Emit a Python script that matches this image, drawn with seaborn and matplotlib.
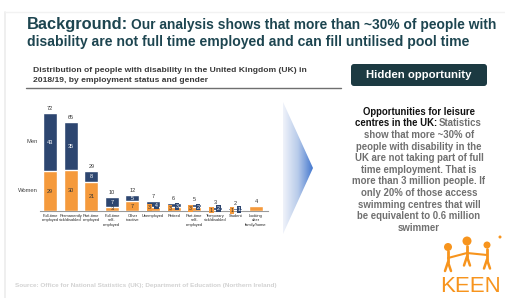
import numpy as np
import pandas as pd
import seaborn as sns
import matplotlib.pyplot as plt
from matplotlib.patches import Polygon, FancyBboxPatch
from matplotlib.colors import LinearSegmentedColormap

sns.set_theme(style='white')
plt.rcParams['font.family'] = ['Liberation Sans', 'DejaVu Sans']

categories = ['Full-time\nemployed', 'Permanently\nsick/disabled', 'Part-time\nemployed',
              'Full-time\nself-\nemployed', 'Other\ninactive', 'Unemployed', 'Retired',
              'Part-time\nself-\nemployed', 'Temporary\nsick/disabled', 'Student',
              'Looking\nafter\nfamily/home']
women = [29, 30, 21, 3, 7, 3, 3, 3, 1, 1, 4]
men = [43, 35, 8, 7, 5, 4, 3, 2, 2, 1, 0]
totals = [72, 65, 29, 10, 12, 7, 6, 5, 3, 2, 4]

navy = '#2d4670'
orange = '#f59a3c'
teal = '#1d4550'

df = pd.DataFrame({'category': categories, 'women': women, 'men': men, 'total': totals})

fig = plt.figure(figsize=(5.06, 2.98), dpi=100)

# slide background axes in pixel coordinates
bg = fig.add_axes([0, 0, 1, 1])
bg.set_xlim(0, 506)
bg.set_ylim(298, 0)
bg.axis('off')

bg.plot([5, 5], [12, 298], color='#ececec', lw=1.2)
bg.plot([5, 506], [12, 12], color='#f2f2f2', lw=1.0)

bg.text(27, 24, 'Background:', fontsize=11.8, fontweight='bold', color=teal, va='center')
bg.text(131, 25, 'Our analysis shows that more than ~30% of people with', fontsize=9.9,
        fontweight='bold', color=teal, va='center')
bg.text(27, 42, 'disability are not full time employed and can fill untilised pool time',
        fontsize=10.1, fontweight='bold', color=teal, va='center')

bg.text(33, 70.5, 'Distribution of people with disability in the United Kingdom (UK) in',
        fontsize=6.1, fontweight='bold', color='#3a3a3a', va='center')
bg.text(33, 80.5, '2018/19, by employment status and gender',
        fontsize=6.1, fontweight='bold', color='#3a3a3a', va='center')
bg.plot([26, 341], [87.5, 87.5], color='#6f6f6f', lw=1.0)

# gradient arrow
cmap = LinearSegmentedColormap.from_list('arr', ['#f0f3fa', '#b8cbea', '#4478cf'])
grad = np.linspace(0, 1, 200).reshape(1, -1)
tri = Polygon([[283, 102], [313, 168], [283, 234]], closed=True, transform=bg.transData,
              facecolor='none', edgecolor='none')
bg.add_patch(tri)
im = bg.imshow(grad, cmap=cmap, extent=[283, 313, 234, 102], aspect='auto')
im.set_clip_path(tri)
bg.set_xlim(0, 506)
bg.set_ylim(298, 0)

# hidden opportunity box
box = FancyBboxPatch((351, 64), 136, 22, boxstyle='round,pad=0,rounding_size=3',
                     facecolor='#1c3a42', edgecolor='none')
bg.add_patch(box)
bg.text(419, 75, 'Hidden opportunity', fontsize=8.2, fontweight='bold', color='white',
        ha='center', va='center')

grey = '#707070'
fs = 6.9
bg.text(419, 112, 'Opportunities for leisure', fontsize=fs, fontweight='bold',
        color='#111111', ha='center', va='center')
bg.text(437, 123.5, 'centres in the UK:', fontsize=fs, fontweight='bold',
        color='#111111', ha='right', va='center')
bg.text(439, 123.5, 'Statistics', fontsize=fs, fontweight='bold',
        color=grey, ha='left', va='center')
body = ['show that more ~30% of', 'people with disability in the',
        'UK are not taking part of full', 'time employment. That is',
        'more than 3 million people. If', 'only 20% of those access',
        'swimming centres that will', 'be equivalent to 0.6 million', 'swimmer']
for i, line in enumerate(body):
    bg.text(419, 135 + i * 11.6, line, fontsize=fs, fontweight='bold', color=grey,
            ha='center', va='center')

bg.text(15, 285, 'Source: Office for National Statistics (UK); Department of Education (Northern Ireland)',
        fontsize=4.6, fontweight='bold', color='#d2d2d2', va='center')

# KEEN logo
logo = '#f7941d'
bg.text(440, 286, 'KEEN', fontsize=16, color=logo, ha='left', va='center')
for cx, cy, r in [(448, 247, 4), (467, 241, 4.5), (487, 245, 3.5)]:
    bg.add_patch(plt.Circle((cx, cy), r, facecolor=logo, edgecolor='none'))
    bg.plot([cx, cx], [cy + r, cy + r + 11], color=logo, lw=2)
    bg.plot([cx - 3, cx, cx + 3], [cy + r + 20, cy + r + 11, cy + r + 20], color=logo, lw=1.8)
bg.plot([448, 467, 487], [258, 253, 255], color=logo, lw=1.5)
bg.add_patch(plt.Circle((500, 237), 1.5, facecolor=logo, edgecolor='none'))

# bar chart
ax = fig.add_axes([40 / 506, 87 / 298, 228 / 506, 109 / 298])
sns.barplot(data=df, x='category', y='total', color=navy, width=0.68, saturation=1,
            ax=ax, zorder=2)
sns.barplot(data=df, x='category', y='women', color=orange, width=0.68, saturation=1,
            ax=ax, zorder=3)
ax.set_xlim(-0.49, 10.58)
ax.set_ylim(0, 80)
ax.set_xlabel('')
ax.set_ylabel('')
ax.set_yticks([])
ax.tick_params(axis='x', length=0, pad=2, labelsize=2.9, labelcolor='#222222')
for s in ['top', 'right', 'left']:
    ax.spines[s].set_visible(False)
ax.spines['bottom'].set_color('#9a9a9a')
ax.spines['bottom'].set_linewidth(0.8)
ax.set_facecolor('none')

for i in range(len(categories)):
    w, m, t = women[i], men[i], totals[i]
    ax.text(i, t + 1.5, str(t), ha='center', va='bottom', fontsize=4.0, color='#333333')
    if w >= 5 or m >= 5:
        ax.text(i, w / 2, str(w), ha='center', va='center', fontsize=4.0, color='#333333', zorder=5)
        ax.text(i, w + m / 2, str(m), ha='center', va='center', fontsize=4.0, color='white', zorder=5)
    elif m > 0:
        ax.text(i - 0.17, t / 2 - 0.8, str(w), ha='center', va='center', fontsize=3.8,
                color='#333333', zorder=5,
                bbox=dict(boxstyle='square,pad=0.15', facecolor=orange, edgecolor='none'))
        ax.text(i + 0.17, t / 2 + 0.3, str(m), ha='center', va='center', fontsize=3.8,
                color='white', zorder=5,
                bbox=dict(boxstyle='square,pad=0.15', facecolor=navy, edgecolor='none'))

ax.text(-0.58, 51, 'Men', ha='right', va='center', fontsize=4.2, color='#444444')
ax.text(-0.58, 15, 'Women', ha='right', va='center', fontsize=4.2, color='#444444')

fig.savefig('out.png', dpi=100)
